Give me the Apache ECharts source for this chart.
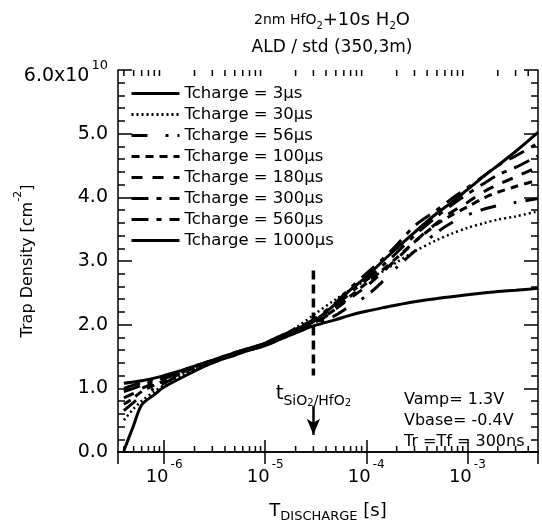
<!DOCTYPE html>
<html>
<head>
<meta charset="utf-8">
<script src="https://cdn.jsdelivr.net/npm/echarts@6/dist/echarts.min.js"></script>
<style>
  html, body { margin: 0; padding: 0; background: #fff; }
  #chart { width: 542px; height: 529px; }
</style>
</head>
<body>
<div id="chart"></div>
<script>
// discharge time [s]
const tDischarge = [4e-7, 5e-7, 6e-7, 8e-7, 1e-6, 1.5e-6, 2e-6, 3e-6, 5e-6, 7e-6, 1e-5, 1.5e-5, 2e-5, 3e-5,
  5e-5, 7e-5, 1e-4, 1.5e-4, 2e-4, 3e-4, 5e-4, 7e-4, 1e-3, 1.5e-3, 2e-3, 3e-3, 5e-3];

// trap density, x1e10 cm^-2
const tc3 = [0.02, 0.42, 0.74, 0.9, 1.02, 1.17, 1.27, 1.4, 1.52, 1.6, 1.67, 1.79, 1.87, 1.98,
  2.08, 2.15, 2.21, 2.27, 2.31, 2.36, 2.41, 2.44, 2.47, 2.5, 2.52, 2.54, 2.57];
const tc30 = [0.5, 0.68, 0.8, 0.95, 1.05, 1.2, 1.3, 1.42, 1.55, 1.62, 1.7, 1.83, 1.95, 2.15,
  2.4, 2.55, 2.7, 2.85, 2.98, 3.15, 3.33, 3.43, 3.52, 3.6, 3.65, 3.7, 3.78];
const tc56 = [0.65, 0.78, 0.88, 1.0, 1.08, 1.22, 1.3, 1.4, 1.53, 1.6, 1.68, 1.8, 1.88, 1.98,
  2.15, 2.3, 2.45, 2.7, 2.9, 3.15, 3.45, 3.6, 3.72, 3.82, 3.87, 3.92, 3.98];
const tc100 = [0.75, 0.85, 0.95, 1.05, 1.12, 1.24, 1.32, 1.42, 1.54, 1.61, 1.69, 1.81, 1.9, 2.02,
  2.25, 2.45, 2.65, 2.88, 3.05, 3.3, 3.58, 3.72, 3.85, 4.0, 4.08, 4.17, 4.27];
const tc180 = [0.85, 0.92, 1.0, 1.08, 1.15, 1.25, 1.33, 1.43, 1.55, 1.62, 1.7, 1.82, 1.9, 2.0,
  2.25, 2.42, 2.6, 2.85, 3.03, 3.3, 3.6, 3.77, 3.92, 4.1, 4.2, 4.32, 4.48];
const tc300 = [0.95, 1.0, 1.05, 1.12, 1.17, 1.27, 1.34, 1.43, 1.55, 1.62, 1.7, 1.83, 1.92, 2.05,
  2.3, 2.5, 2.7, 2.95, 3.13, 3.4, 3.7, 3.88, 4.05, 4.23, 4.35, 4.47, 4.65];
const tc560 = [1.0, 1.05, 1.09, 1.14, 1.18, 1.28, 1.35, 1.44, 1.56, 1.63, 1.71, 1.84, 1.94, 2.08,
  2.35, 2.58, 2.8, 3.05, 3.25, 3.55, 3.8, 3.98, 4.15, 4.35, 4.5, 4.65, 4.85];
const tc1000 = [1.08, 1.1, 1.12, 1.16, 1.2, 1.28, 1.35, 1.44, 1.56, 1.63, 1.71, 1.84, 1.93, 2.05,
  2.33, 2.55, 2.75, 3.02, 3.2, 3.45, 3.75, 3.92, 4.12, 4.35, 4.5, 4.72, 5.02];

const seriesNames = ['Tcharge = 3µs', 'Tcharge = 30µs', 'Tcharge = 56µs', 'Tcharge = 100µs',
  'Tcharge = 180µs', 'Tcharge = 300µs', 'Tcharge = 560µs', 'Tcharge = 1000µs'];
const seriesData = [tc3, tc30, tc56, tc100, tc180, tc300, tc560, tc1000];
const dashTypes = ['solid', [2, 3], [16, 18, 3, 9], [8, 6], [11, 10], [17, 8, 5, 8], [17, 8, 5, 8], 'solid'];

// minor ticks of the log axis
const minorTicksX = [4e-7, 5e-7, 6e-7, 7e-7, 8e-7, 9e-7,
  2e-6, 3e-6, 4e-6, 5e-6, 6e-6, 7e-6, 8e-6, 9e-6,
  2e-5, 3e-5, 4e-5, 5e-5, 6e-5, 7e-5, 8e-5, 9e-5,
  2e-4, 3e-4, 4e-4, 5e-4, 6e-4, 7e-4, 8e-4, 9e-4,
  2e-3, 3e-3, 4e-3];

// t SiO2/HfO2 marker
const tMarker = 3e-5;
const markerDash = [2.85, 1.2];
const markerArrow = [0.72, 0.27];
const markerLabelY = 0.91;

const FONT = 'DejaVu Sans';
const chart = echarts.init(document.getElementById('chart'));

const txt = (size, extra) => Object.assign({ fontFamily: FONT, fontSize: size, fontWeight: 'normal', color: '#000' }, extra);

const lineSeries = seriesNames.map((name, i) => ({
  name: name,
  type: 'line',
  data: tDischarge.map((t, j) => [t, seriesData[i][j]]),
  symbol: 'none',
  smooth: 0.3,
  itemStyle: { color: '#000' },
  lineStyle: { color: '#000', width: i === 1 ? 2.5 : 3, type: dashTypes[i], cap: 'butt' },
  z: 3
}));

const option = {
  animation: false,
  backgroundColor: '#fff',
  title: {
    left: 327,
    top: 4,
    textAlign: 'center',
    text: '{a|2nm HfO}{as|2}{b|+10s H}{as|2}{b|O}\n{c|ALD / std (350,3m)}',
    textStyle: {
      fontWeight: 'normal',
      rich: {
        a: txt(14, { lineHeight: 22, verticalAlign: 'middle' }),
        b: txt(18, { lineHeight: 22, verticalAlign: 'middle' }),
        as: txt(10, { lineHeight: 10, verticalAlign: 'bottom' }),
        c: txt(17, { lineHeight: 34, verticalAlign: 'middle' })
      }
    }
  },
  legend: {
    data: seriesNames,
    orient: 'vertical',
    left: 125,
    top: 78,
    itemWidth: 48,
    itemHeight: 14,
    itemGap: 0,
    itemStyle: { opacity: 0 },
    lineStyle: { width: 3 },
    textStyle: { fontFamily: FONT, fontSize: 16.5, color: '#000', lineHeight: 21 }
  },
  grid: { left: 118, right: 4, top: 70, bottom: 77, outerBoundsMode: 'none' },
  xAxis: [{
    type: 'log',
    min: 3.5e-7,
    max: 5e-3,
    position: 'bottom',
    name: '{t|T}{d|DISCHARGE}{t| [s]}',
    nameLocation: 'middle',
    nameGap: 47,
    nameMoveOverlap: false,
    nameTextStyle: {
      rich: {
        t: txt(18, { lineHeight: 24, verticalAlign: 'middle' }),
        d: txt(13, { lineHeight: 13, verticalAlign: 'bottom' })
      }
    },
    axisLine: { show: true, lineStyle: { color: '#000', width: 1.5 } },
    axisTick: { show: true, inside: true, length: 12, lineStyle: { color: '#000', width: 1.5 } },
    splitLine: { show: false },
    axisLabel: {
      margin: 7,
      showMinLabel: false,
      showMaxLabel: false,
      formatter: v => '{b|10}{s|' + Math.round(Math.log10(v)) + '}',
      rich: {
        b: txt(18, { lineHeight: 36, verticalAlign: 'middle' }),
        s: txt(12, { lineHeight: 12, verticalAlign: 'top', padding: [0, 0, 0, 2] })
      }
    }
  }, {
    type: 'log',
    min: 3.5e-7,
    max: 5e-3,
    position: 'top',
    axisLine: { show: true, lineStyle: { color: '#000', width: 1.5 } },
    axisTick: { show: true, inside: true, length: 12, lineStyle: { color: '#000', width: 1.5 } },
    splitLine: { show: false },
    axisLabel: { show: false }
  }],
  yAxis: [{
    type: 'value',
    min: 0,
    max: 6,
    interval: 1,
    position: 'left',
    name: '{a|Trap Density [cm}{s|-2}{a|]}',
    nameLocation: 'middle',
    nameGap: 75,
    nameMoveOverlap: false,
    nameTextStyle: {
      rich: {
        a: txt(16, { lineHeight: 30, verticalAlign: 'middle' }),
        s: txt(11, { lineHeight: 11, verticalAlign: 'top' })
      }
    },
    axisLine: { show: true, lineStyle: { color: '#000', width: 1.5 } },
    axisTick: { show: true, inside: true, length: 14, lineStyle: { color: '#000', width: 1.5 } },
    minorTick: { show: true, splitNumber: 5, length: 7, lineStyle: { color: '#000', width: 1.5 } },
    splitLine: { show: false },
    minorSplitLine: { show: false },
    axisLabel: {
      margin: 10,
      formatter: v => v === 6 ? '{b|6.0x10}{s|10}' : '{n|' + v.toFixed(1) + '}',
      rich: {
        b: txt(19, { lineHeight: 31, verticalAlign: 'bottom' }),
        s: txt(13, { lineHeight: 13, verticalAlign: 'top', padding: [5, 0, 0, 2] }),
        n: txt(19, { lineHeight: 28, verticalAlign: 'middle' })
      }
    }
  }, {
    type: 'value',
    min: 0,
    max: 6,
    interval: 1,
    position: 'right',
    axisLine: { show: true, lineStyle: { color: '#000', width: 1.5 } },
    axisTick: { show: true, inside: true, length: 14, lineStyle: { color: '#000', width: 1.5 } },
    minorTick: { show: true, splitNumber: 5, length: 7, lineStyle: { color: '#000', width: 1.5 } },
    splitLine: { show: false },
    axisLabel: { show: false }
  }],
  graphic: [{
    type: 'text',
    left: 404,
    top: 389,
    style: {
      text: 'Vamp= 1.3V\nVbase= -0.4V\nTr =Tf = 300ns',
      font: '16px "DejaVu Sans"',
      lineHeight: 21,
      fill: '#000'
    }
  }],
  series: lineSeries.concat([
    {
      name: 'marker',
      type: 'line',
      data: markerDash.map(v => [tMarker, v]),
      symbol: 'none',
      lineStyle: { color: '#000', width: 3.5, type: [9, 5] },
      z: 4,
      markLine: {
        silent: true,
        symbol: ['none', 'arrow'],
        symbolSize: [10, 16],
        label: { show: false },
        lineStyle: { color: '#000', width: 2.5, type: 'solid' },
        data: [[{ coord: [tMarker, markerArrow[0]] }, { coord: [tMarker, markerArrow[1]] }]]
      },
      markPoint: {
        silent: true,
        symbolSize: 0,
        data: [{ coord: [tMarker, markerLabelY] }],
        label: {
          show: true,
          position: 'inside',
          formatter: '{t|t}{s|SiO}{ss|2}{s|/HfO}{ss|2}',
          rich: {
            t: txt(20, { lineHeight: 28, verticalAlign: 'middle' }),
            s: txt(14, { lineHeight: 14, verticalAlign: 'bottom' }),
            ss: txt(10, { lineHeight: 10, verticalAlign: 'bottom' })
          }
        }
      }
    },
    {
      name: 'minorTicks',
      type: 'custom',
      silent: true,
      clip: false,
      z: 5,
      data: minorTicksX.map(v => [v, 0]),
      renderItem: (params, api) => {
        const x = api.value(0);
        const pb = api.coord([x, 0]);
        const pt = api.coord([x, 6]);
        return {
          type: 'group',
          children: [
            { type: 'line', shape: { x1: pb[0], y1: pb[1], x2: pb[0], y2: pb[1] - 6 }, style: { stroke: '#000', lineWidth: 1.5 } },
            { type: 'line', shape: { x1: pt[0], y1: pt[1], x2: pt[0], y2: pt[1] + 6 }, style: { stroke: '#000', lineWidth: 1.5 } }
          ]
        };
      }
    }
  ])
};

chart.setOption(option);
</script>
</body>
</html>
